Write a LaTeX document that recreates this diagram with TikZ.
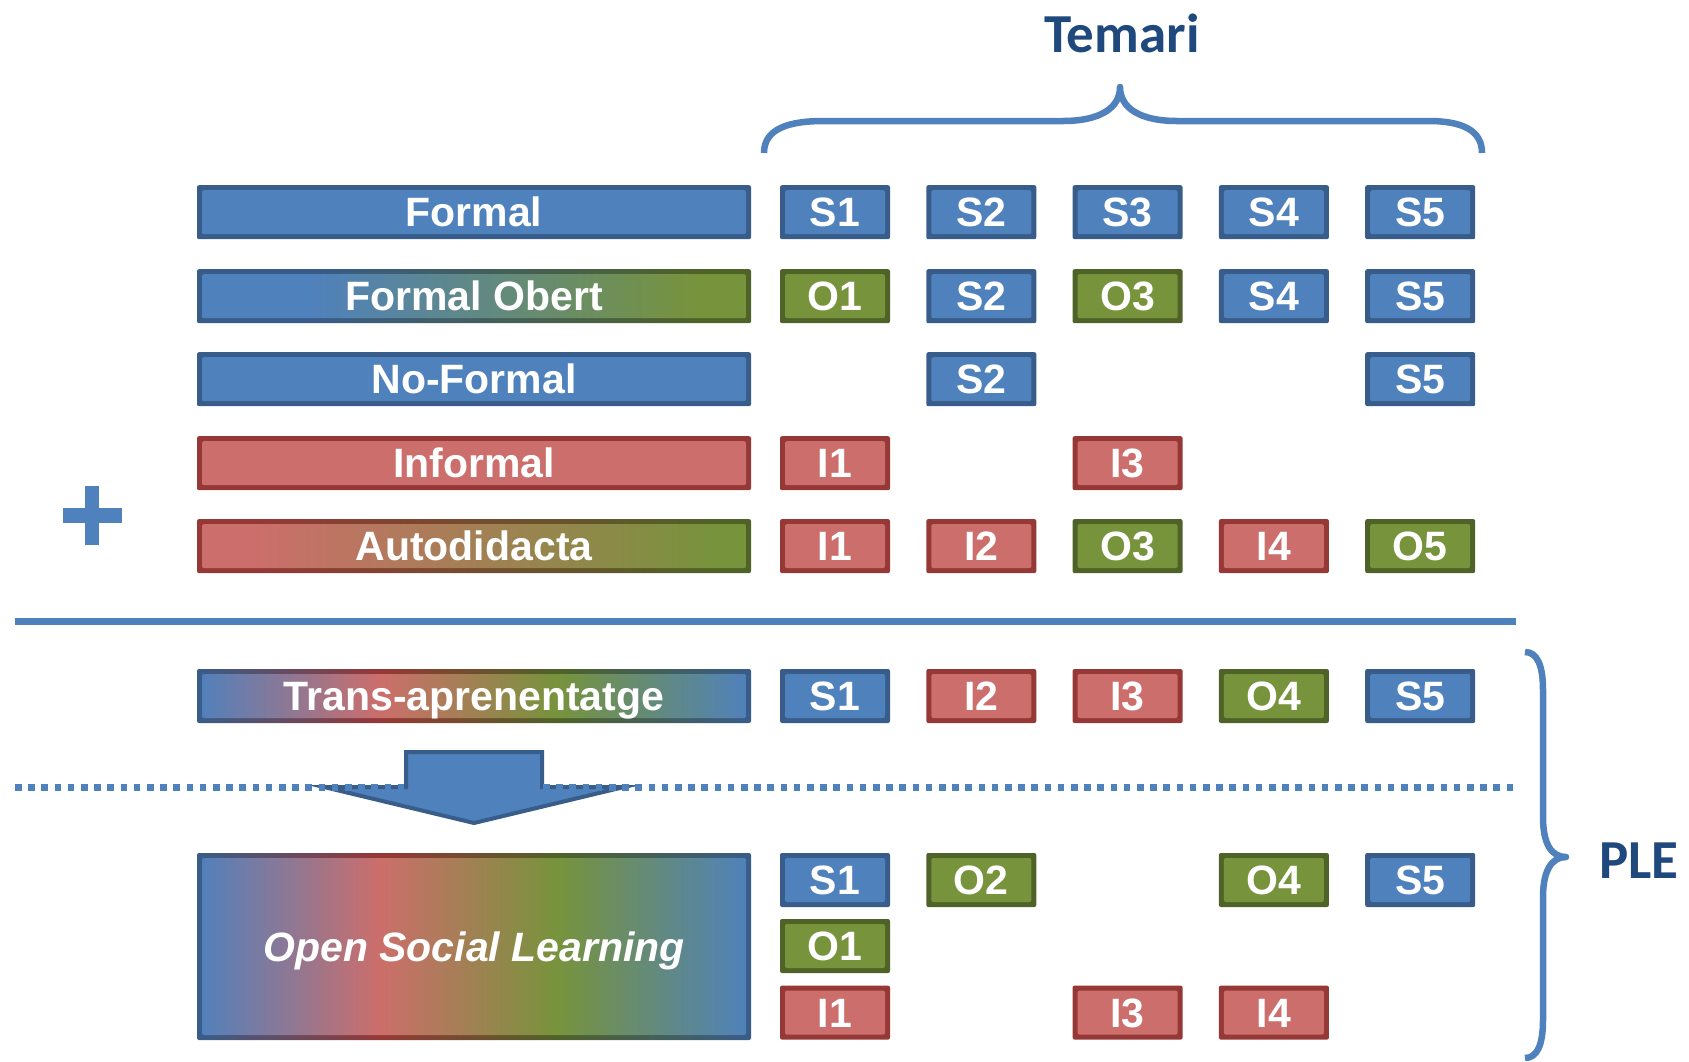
\documentclass[tikz,border=0pt]{standalone}
\usepackage{fontspec}
\setmainfont{Liberation Sans}
\newfontfamily\headfont{Carlito}
\usetikzlibrary{calc}
\definecolor{cB}{HTML}{4F81BD}
\definecolor{cBd}{HTML}{385D8A}
\definecolor{cR}{HTML}{CC6E6B}
\definecolor{cRd}{HTML}{963836}
\definecolor{cG}{HTML}{77933C}
\definecolor{cGd}{HTML}{4F6228}
\definecolor{cHead}{HTML}{1F497D}
\pgfdeclarehorizontalshading{foFill}{100bp}{color(0bp)=(cB); color(35bp)=(cB); color(70bp)=(cG); color(100bp)=(cG)}
\pgfdeclarehorizontalshading{foLine}{100bp}{color(0bp)=(cBd); color(35bp)=(cBd); color(70bp)=(cGd); color(100bp)=(cGd)}
\pgfdeclarehorizontalshading{adFill}{100bp}{color(0bp)=(cR); color(30bp)=(cR); color(72bp)=(cG); color(100bp)=(cG)}
\pgfdeclarehorizontalshading{adLine}{100bp}{color(0bp)=(cRd); color(30bp)=(cRd); color(72bp)=(cGd); color(100bp)=(cGd)}
\pgfdeclarehorizontalshading{mixFill}{100bp}{color(0bp)=(cB); color(25bp)=(cB); color(41.5bp)=(cR); color(57.5bp)=(cG); color(75bp)=(cB); color(100bp)=(cB)}
\pgfdeclarehorizontalshading{mixLine}{100bp}{color(0bp)=(cBd); color(25bp)=(cBd); color(41.5bp)=(cRd); color(57.5bp)=(cGd); color(75bp)=(cBd); color(100bp)=(cBd)}
\newcommand\boxfont{\fontsize{41}{48}\selectfont\bfseries}
\tikzset{
  insetfill/.style={path picture={\fill[#1] ($(path picture bounding box.south west)+(5pt,5pt)$) rectangle ($(path picture bounding box.north east)+(-5pt,-5pt)$);}},
  insetshade/.style={path picture={\shade[shading=#1] ($(path picture bounding box.south west)+(5pt,5pt)$) rectangle ($(path picture bounding box.north east)+(-5pt,-5pt)$);}},
  bx/.style={minimum height=54pt, inner sep=0pt, outer sep=0pt, text=white, font=\boxfont, rounded corners=2pt, text height=29pt, text depth=0pt},
  bar/.style={bx, minimum width=554pt},
  cell/.style={bx, minimum width=110pt},
  bluebox/.style={fill=cBd, insetfill=cB},
  redbox/.style={fill=cRd, insetfill=cR},
  greenbox/.style={fill=cGd, insetfill=cG},
  gradbox/.style 2 args={shade, shading=#1, insetshade=#2},
  brace/.style={draw=cB, line width=6.5pt, line cap=butt, line join=round},
  headtxt/.style={text=cHead, font=\headfont\fontsize{55}{60}\selectfont\bfseries, inner sep=0pt}
}
\begin{document}
\begin{tikzpicture}[x=1pt,y=-1pt]
\useasboundingbox (0,0) rectangle (1689,1061);

% heading and top brace
\node[headtxt, anchor=base] (temari) at (1122,52) {Temari};
\coordinate (tb1) at (764,153);
\coordinate (tb2) at (1482,153);
\coordinate (tbtip) at (1120,87);
\draw[brace] (tb1) .. controls (764,128) and (790,121) .. (824,121) -- (1063,121)
  .. controls (1100,121) and (1120,108) .. (tbtip)
  .. controls (1120,108) and (1140,121) .. (1177,121) -- (1428,121)
  .. controls (1462,121) and (1482,130) .. (tb2);

% row labels
\node[bar, bluebox] (formal) at (474,212.2) {Formal};
\node[bar, gradbox={foLine}{foFill}] (fobert) at (474,296.2) {Formal Obert};
\node[bar, bluebox] (noformal) at (474,379.2) {No-Formal};
\node[bar, redbox] (informal) at (474,463.2) {Informal};
\node[bar, gradbox={adLine}{adFill}] (autodid) at (474,546.1) {Autodidacta};
\node[bar, gradbox={mixLine}{mixFill}] (trans) at (474,696) {Trans-aprenentatge};
\node[bar, minimum height=187pt, text height=29pt, gradbox={mixLine}{mixFill}, font=\boxfont\itshape] (osl) at (474,946.5) {Open Social Learning};

% row 1
\node[cell, bluebox] (r1c1) at (835,212.2) {S1};
\node[cell, bluebox] (r1c2) at (981.3,212.2) {S2};
\node[cell, bluebox] (r1c3) at (1127.6,212.2) {S3};
\node[cell, bluebox] (r1c4) at (1273.9,212.2) {S4};
\node[cell, bluebox] (r1c5) at (1420.2,212.2) {S5};
% row 2
\node[cell, greenbox] (r2c1) at (835,296.2) {O1};
\node[cell, bluebox] (r2c2) at (981.3,296.2) {S2};
\node[cell, greenbox] (r2c3) at (1127.6,296.2) {O3};
\node[cell, bluebox] (r2c4) at (1273.9,296.2) {S4};
\node[cell, bluebox] (r2c5) at (1420.2,296.2) {S5};
% row 3
\node[cell, bluebox] (r3c2) at (981.3,379.2) {S2};
\node[cell, bluebox] (r3c5) at (1420.2,379.2) {S5};
% row 4
\node[cell, redbox] (r4c1) at (835,463.2) {I1};
\node[cell, redbox] (r4c3) at (1127.6,463.2) {I3};
% row 5
\node[cell, redbox] (r5c1) at (835,546.1) {I1};
\node[cell, redbox] (r5c2) at (981.3,546.1) {I2};
\node[cell, greenbox] (r5c3) at (1127.6,546.1) {O3};
\node[cell, redbox] (r5c4) at (1273.9,546.1) {I4};
\node[cell, greenbox] (r5c5) at (1420.2,546.1) {O5};
% trans row
\node[cell, bluebox] (t1) at (835,696) {S1};
\node[cell, redbox] (t2) at (981.3,696) {I2};
\node[cell, redbox] (t3) at (1127.6,696) {I3};
\node[cell, greenbox] (t4) at (1273.9,696) {O4};
\node[cell, bluebox] (t5) at (1420.2,696) {S5};
% OSL rows
\node[cell, bluebox] (oa1) at (835,880) {S1};
\node[cell, greenbox] (oa2) at (981.3,880) {O2};
\node[cell, greenbox] (oa4) at (1273.9,880) {O4};
\node[cell, bluebox] (oa5) at (1420.2,880) {S5};
\node[cell, greenbox] (ob1) at (835,946) {O1};
\node[cell, redbox] (oc1) at (835,1012.6) {I1};
\node[cell, redbox] (oc3) at (1127.6,1012.6) {I3};
\node[cell, redbox] (oc4) at (1273.9,1012.6) {I4};

% plus sign
\fill[cB] (63,508) rectangle (122,523);
\fill[cB] (85,486) rectangle (99,545);

% solid separator
\coordinate (sl) at (15,621.5);
\coordinate (sr) at (1516,621.5);
\draw[cB, line width=7pt] (sl) -- (sr);

% block arrow
\draw[draw=cBd, fill=cB, line width=4pt, line join=miter]
  (406,752) -- (542,752) -- (542,787) -- (624,787) -- (474,823) -- (324,787) -- (406,787) -- cycle;

% dotted separator
\coordinate (dl) at (15,787);
\coordinate (dr) at (1516,787);
\draw[cB, line width=7pt, dash pattern=on 6.6pt off 6.6pt] (dl) -- (dr);

% right brace and PLE
\coordinate (rb1) at (1525,652);
\coordinate (rb2) at (1525,1058);
\coordinate (rbtip) at (1566,857);
\draw[brace] (rb1) .. controls (1537,652) and (1543,665) .. (1543,690) -- (1543,817)
  .. controls (1543,845) and (1552,857) .. (rbtip)
  .. controls (1552,857) and (1543,870) .. (1543,897) -- (1543,1020)
  .. controls (1543,1045) and (1537,1058) .. (rb2);
\node[headtxt] (ple) at (1639,861) {PLE};
\end{tikzpicture}
\end{document}
